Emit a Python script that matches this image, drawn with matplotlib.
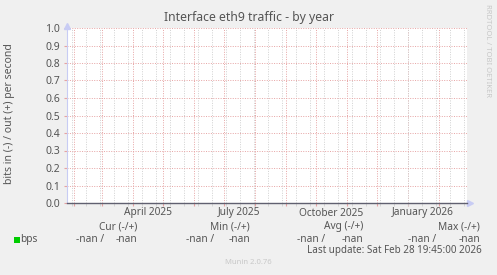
import matplotlib
matplotlib.use('Agg')
import matplotlib.pyplot as plt
import matplotlib.dates as mdates
import matplotlib.transforms as mtransforms
import numpy as np
from datetime import datetime, timedelta

plt.rcParams['font.family'] = ['Noto Sans', 'DejaVu Sans']

# data (interface reported nothing, every sample is nan)
end_time = datetime(2026, 2, 28, 19, 45)
start_time = end_time - timedelta(days=400)
sample_times = [start_time, end_time]
bps_in = [np.nan, np.nan]
bps_out = [np.nan, np.nan]

# x labels (rrdtool centres them inside the month)
label_dates = [datetime(2025, 4, 16), datetime(2025, 7, 16), datetime(2025, 10, 16), datetime(2026, 1, 16)]
label_texts = ['April 2025', 'July 2025', 'October 2025', 'January 2026']

legend_columns = ['Cur (-/+)', 'Min (-/+)', 'Avg (-/+)', 'Max (-/+)']
legend_values = ['-nan', '-nan', '-nan', '-nan']

BG = '#f0f0f0'
TXT = '#555555'
MGRID = '#e6a3a3'
GRID = '#d0d0d0'
AXIS_BLUE = '#c8ccf4'
FS = 7.3

W, H = 497, 275
fig = plt.figure(figsize=(W / 100, H / 100), dpi=100, facecolor=BG)
ax = fig.add_axes([67 / W, 1 - 203 / H, 400 / W, 175 / H])
ax.set_facecolor('white')

ax.plot(sample_times, bps_out, color='#00cc00', lw=1)
ax.plot(sample_times, [-v for v in bps_in], color='#00cc00', lw=1)

ax.set_xlim(start_time, end_time)
ax.set_ylim(0, 1)

# grid: minor every two weeks, major at each month start
minor_rule = mdates.rrulewrapper(mdates.WEEKLY, interval=2, dtstart=datetime(2025, 2, 2))
ax.xaxis.set_minor_locator(mdates.RRuleLocator(minor_rule))
ax.xaxis.set_major_locator(mdates.MonthLocator(bymonthday=1))
ax.xaxis.set_major_formatter(plt.NullFormatter())
ax.set_yticks(np.arange(0, 1.01, 0.1))
ax.set_yticklabels(['%.1f' % v for v in np.arange(0, 1.01, 0.1)])

ax.grid(True, which='minor', axis='x', color=GRID, ls=(0, (1, 1.5)), lw=0.7)
ax.grid(True, which='major', axis='x', color=MGRID, ls=(0, (1, 1.5)), lw=0.7)
ax.grid(True, which='major', axis='y', color=MGRID, ls=(0, (1, 1.5)), lw=0.7)
ax.set_axisbelow(True)

ax.tick_params(axis='x', which='major', length=2, color=MGRID, direction='out')
ax.tick_params(axis='x', which='minor', length=2, color=GRID, direction='out')
ax.tick_params(axis='y', length=2, color=MGRID, labelsize=FS + 0.2, labelcolor=TXT, pad=3)

for s in ['top', 'right']:
    ax.spines[s].set_visible(False)
ax.spines['left'].set_color(AXIS_BLUE)
ax.spines['bottom'].set_color('#606070')
ax.spines['bottom'].set_linewidth(1)

# axis arrows
ax.plot(1.0075, 0, '>', color=AXIS_BLUE, ms=4, transform=ax.transAxes, clip_on=False)
ax.plot(0, 1.01, '^', color=AXIS_BLUE, ms=4, transform=ax.transAxes, clip_on=False)

trans = mtransforms.blended_transform_factory(ax.transData, fig.transFigure)
for d, t in zip(label_dates, label_texts):
    ax.text(mdates.date2num(d), 1 - 213 / H, t, transform=trans, ha='center', va='center',
            fontsize=FS, color=TXT)

fig.text(249 / W, 1 - 17 / H, 'Interface eth9 traffic - by year', ha='center', va='center',
         fontsize=8.8, color=TXT)
fig.text(10 / W, 1 - 114 / H, 'bits in (-) / out (+) per second', rotation=90,
         ha='center', va='center', fontsize=7.5, color=TXT)
fig.text(487 / W, 1 - 51 / H, 'RRDTOOL / TOBI OETIKER', rotation=270, ha='center', va='center',
         fontsize=5.5, color='#c8c8c8')

# legend block
head_right = [137, 250, 363, 480]
first_right = [104, 214, 325, 436]
y1 = 1 - 227 / H
y2 = 1 - 239.5 / H
for i, col in enumerate(legend_columns):
    fig.text(head_right[i] / W, y1, col, ha='right', va='center', fontsize=FS, color=TXT)
    fig.text(first_right[i] / W, y2, legend_values[i] + ' /', ha='right', va='center', fontsize=FS, color=TXT)
    fig.text(head_right[i] / W, y2, legend_values[i], ha='right', va='center', fontsize=FS, color=TXT)

fig.patches.append(plt.Rectangle((14 / W, 1 - 243 / H), 6 / W, 6 / H, transform=fig.transFigure,
                                 facecolor='#00cc00', edgecolor='none'))
fig.text(20 / W, y2, 'bps', ha='left', va='center', fontsize=FS, color=TXT)
fig.text(482 / W, 1 - 251 / H, 'Last update: Sat Feb 28 19:45:00 2026', ha='right', va='center',
         fontsize=7.1, color=TXT)
fig.text(248 / W, 1 - 262 / H, 'Munin 2.0.76', ha='center', va='center', fontsize=5.5, color='#c8c8c8')

fig.savefig('out.png', dpi=100, facecolor=BG)
